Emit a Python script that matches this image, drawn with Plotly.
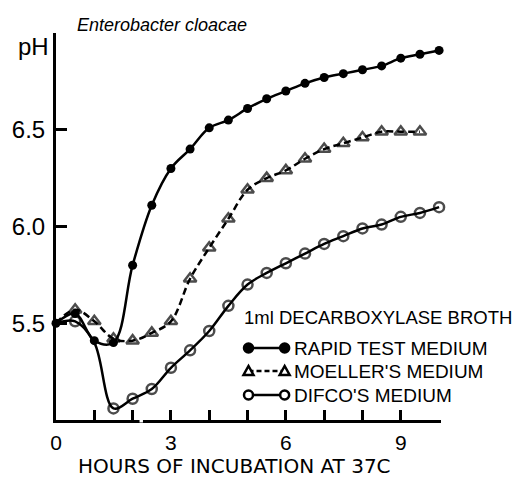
import plotly.graph_objects as go

# ---- data ----
hours_rapid = [0, 0.5, 1, 1.5, 2, 2.5, 3, 3.5, 4, 4.5, 5, 5.5, 6, 6.5, 7, 7.5, 8, 8.5, 9, 9.5, 10]
ph_rapid = [5.50, 5.55, 5.41, 5.40, 5.80, 6.11, 6.30, 6.40, 6.51, 6.55, 6.61, 6.66, 6.70, 6.74, 6.77, 6.79, 6.81, 6.83, 6.87, 6.89, 6.91]

hours_moeller = [0, 0.5, 1, 1.5, 2, 2.5, 3, 3.5, 4, 4.5, 5, 5.5, 6, 6.5, 7, 7.5, 8, 8.5, 9, 9.5]
ph_moeller = [5.50, 5.57, 5.51, 5.42, 5.41, 5.45, 5.51, 5.73, 5.89, 6.04, 6.19, 6.25, 6.29, 6.35, 6.40, 6.43, 6.46, 6.49, 6.49, 6.49]

hours_difco = [0, 0.5, 1, 1.5, 2, 2.5, 3, 3.5, 4, 4.5, 5, 5.5, 6, 6.5, 7, 7.5, 8, 8.5, 9, 9.5, 10]
ph_difco = [5.50, 5.51, 5.40, 5.06, 5.11, 5.16, 5.27, 5.36, 5.46, 5.59, 5.70, 5.76, 5.81, 5.86, 5.91, 5.95, 5.99, 6.01, 6.05, 6.07, 6.10]

# points where the marker is hidden under the filled (rapid) marker in the original
moeller_hidden = [0]
difco_hidden = [0, 1]

x_tick_vals = [0, 1, 2, 3, 4, 5, 6, 7, 8, 9]
x_tick_text = ["0", "", "", "3", "", "", "6", "", "", "9"]
y_tick_vals = [5.5, 6.0, 6.5]
y_tick_text = ["5.5", "6.0", "6.5"]

title_text = "Enterobacter cloacae"
y_label = "pH"
x_label = "HOURS OF INCUBATION AT 37C"
legend_header = "1ml DECARBOXYLASE BROTH"
series_names = ["RAPID TEST MEDIUM", "MOELLER'S MEDIUM", "DIFCO'S MEDIUM"]

FONT = "Liberation Sans"
W, H = 517, 479
ML, MR, MT, MB = 47, 76, 33, 59
PW = W - ML - MR
PH = H - MT - MB


def px(xpix):
    return (xpix - ML) / PW


def py(ypix):
    return (H - MB - ypix) / PH


fig = go.Figure()

fig.add_trace(go.Scatter(
    x=hours_difco, y=ph_difco, mode="lines+markers", name=series_names[2],
    line=dict(color="black", width=2.5, shape="spline", smoothing=1.0),
    marker=dict(symbol="circle-open", size=[0 if h in difco_hidden else 10 for h in hours_difco],
                color="black", line=dict(width=2.5, color="black")),
    cliponaxis=False))

fig.add_trace(go.Scatter(
    x=hours_moeller, y=ph_moeller, mode="lines+markers", name=series_names[1],
    line=dict(color="black", width=2.5, shape="spline", smoothing=1.0, dash="7px,4px"),
    marker=dict(symbol="triangle-up-open", size=[0 if h in moeller_hidden else 11 for h in hours_moeller],
                color="black", line=dict(width=2.5, color="black")),
    cliponaxis=False))

fig.add_trace(go.Scatter(
    x=hours_rapid, y=ph_rapid, mode="lines+markers", name=series_names[0],
    line=dict(color="black", width=2.5, shape="spline", smoothing=1.0),
    marker=dict(symbol="circle", size=9, color="black"),
    cliponaxis=False))

fig.update_layout(
    width=W, height=H,
    margin=dict(l=ML, r=MR, t=MT, b=MB),
    plot_bgcolor="white", paper_bgcolor="white",
    showlegend=False,
    font=dict(family=FONT, color="black"),
    xaxis=dict(range=[0, 10.05], showline=True, linewidth=3, linecolor="black",
               ticks="inside", ticklen=10, tickwidth=2.5, tickcolor="black",
               tickvals=x_tick_vals, ticktext=x_tick_text,
               tickfont=dict(size=21, family=FONT), ticklabelstandoff=2,
               showgrid=False, zeroline=False),
    yaxis=dict(range=[5.0, 7.0], showline=True, linewidth=3, linecolor="black",
               ticks="inside", ticklen=11, tickwidth=2.5, tickcolor="black",
               tickvals=y_tick_vals, ticktext=y_tick_text,
               tickfont=dict(size=24, family=FONT), ticklabelstandoff=3,
               showgrid=False, zeroline=False),
)

annotations = [
    dict(text="<i>" + title_text + "</i>", x=px(66), y=py(25), xref="paper", yref="paper",
         xanchor="left", yanchor="middle", showarrow=False, font=dict(size=18, family=FONT)),
    dict(text=y_label, x=px(24), y=py(46), xref="paper", yref="paper",
         xanchor="center", yanchor="middle", showarrow=False, font=dict(size=24, family=FONT)),
    dict(text=x_label, x=px(230), y=py(466), xref="paper", yref="paper",
         xanchor="center", yanchor="middle", showarrow=False,
         font=dict(size=20, family="DejaVu Sans")),
    dict(text=legend_header, x=px(237), y=py(317), xref="paper", yref="paper",
         xanchor="left", yanchor="middle", showarrow=False, font=dict(size=18.5, family=FONT)),
]
row_y = [348, 371, 395]
for name, ry in zip(series_names, row_y):
    annotations.append(dict(text=name, x=px(289), y=py(ry), xref="paper", yref="paper",
                            xanchor="left", yanchor="middle", showarrow=False,
                            font=dict(size=19, family=FONT)))
fig.update_layout(annotations=annotations)

shapes = []
# x-axis break in the original drawing
shapes.append(dict(type="line", xref="x", yref="paper", x0=2.18, x1=2.27, y0=0, y1=0,
                   line=dict(color="white", width=5), layer="above"))
dashes = ["solid", "5px,3px", "solid"]
for i, ry in enumerate(row_y):
    shapes.append(dict(type="line", xref="paper", yref="paper", x0=px(244), x1=px(281),
                       y0=py(ry), y1=py(ry), line=dict(color="black", width=2.5, dash=dashes[i])))
    for cx in (244, 281):
        if i == 1:
            shapes.append(dict(type="path", xref="paper", yref="paper", xsizemode="pixel",
                               ysizemode="pixel", xanchor=px(cx), yanchor=py(ry),
                               path="M -5,-4 L 5,-4 L 0,5 Z", fillcolor="white",
                               line=dict(color="black", width=2.5)))
        else:
            shapes.append(dict(type="circle", xref="paper", yref="paper", xsizemode="pixel",
                               ysizemode="pixel", xanchor=px(cx), yanchor=py(ry),
                               x0=-4.5, x1=4.5, y0=-4.5, y1=4.5,
                               fillcolor="black" if i == 0 else "white",
                               line=dict(color="black", width=2.5)))
fig.update_layout(shapes=shapes)

fig.write_html("out.html", config={"displayModeBar": False},
               post_script="document.body.style.margin='0';document.body.style.padding='0';"
                           "document.body.style.overflow='hidden';")
